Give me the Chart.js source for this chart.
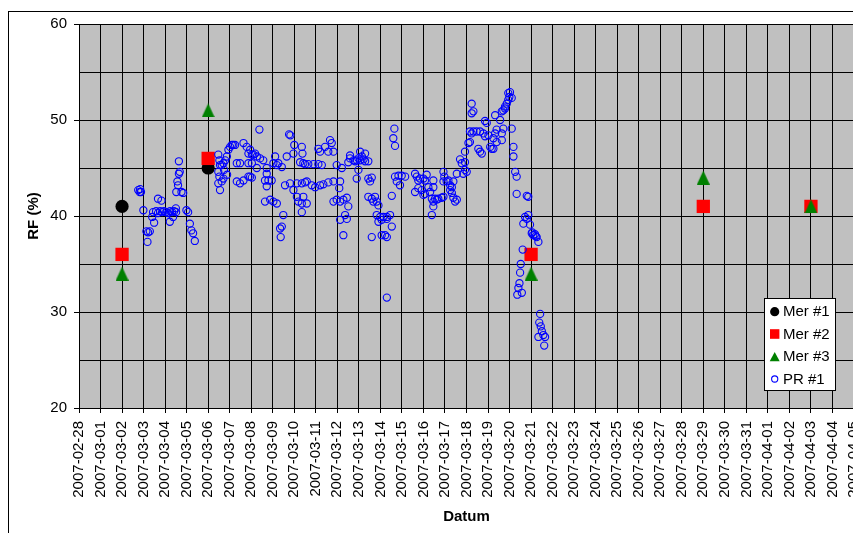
<!DOCTYPE html>
<html>
<head>
<meta charset="utf-8">
<script src="https://cdn.jsdelivr.net/npm/chart.js@4/dist/chart.umd.min.js"></script>
<style>
  html, body { margin: 0; padding: 0; background: #fff; overflow: hidden; width: 853px; height: 533px; }
  #rf { position: absolute; left: 0; top: 0; }
</style>
</head>
<body>
<canvas id="rf" width="870" height="533"></canvas>
<script>
// Day axis: 0 = 2007-02-28, one tick per day
const tickLabels = [
  '2007-02-28',
  '2007-03-01','2007-03-02','2007-03-03','2007-03-04','2007-03-05','2007-03-06','2007-03-07',
  '2007-03-08','2007-03-09','2007-03-10','2007-03-11','2007-03-12','2007-03-13','2007-03-14',
  '2007-03-15','2007-03-16','2007-03-17','2007-03-18','2007-03-19','2007-03-20','2007-03-21',
  '2007-03-22','2007-03-23','2007-03-24','2007-03-25','2007-03-26','2007-03-27','2007-03-28',
  '2007-03-29','2007-03-30','2007-03-31',
  '2007-04-01','2007-04-02','2007-04-03','2007-04-04','2007-04-05'
];
const rfTicks = [20, 25, 30, 35, 40, 45, 50, 55, 60];

// Spot measurements
const mer1Day = [2, 6];
const mer1RF  = [41, 45];
const mer2Day = [2, 6, 21, 29, 34];
const mer2RF  = [36, 46, 36, 41, 41];
const mer3Day = [2, 6, 21, 29, 34];
const mer3RF  = [34, 51, 34, 44, 41];

// Continuous logger PR #1 (fractional days since 2007-02-28)
const prDay = [
  2.75, 2.82, 2.84, 2.88, 2.99, 3.13, 3.18, 3.21, 3.29, 3.40, 3.44, 3.49,
  3.58, 3.67, 3.67, 3.77, 3.83, 3.86, 3.95, 4.05, 4.14, 4.22, 4.23, 4.32,
  4.37, 4.42, 4.50, 4.51, 4.52, 4.57, 4.60, 4.64, 4.64, 4.68, 4.76, 4.84,
  4.99, 5.07, 5.15, 5.22, 5.30, 5.38,
  6.47, 6.47, 6.47, 6.52, 6.52, 6.55, 6.55, 6.63, 6.63, 6.71, 6.71, 6.74,
  6.79, 6.87, 6.88, 6.94, 7.02, 7.10, 7.17, 7.25, 7.33, 7.33, 7.48, 7.48,
  7.64, 7.64, 7.79, 7.87, 7.87, 7.87, 7.95, 7.95, 8.03, 8.03, 8.03, 8.10,
  8.18, 8.26, 8.26, 8.38, 8.41, 8.56, 8.64, 8.64, 8.72, 8.72, 8.72, 8.80,
  8.88, 8.95, 9.03, 9.03, 9.11, 9.19, 9.19, 9.26, 9.34, 9.37, 9.42, 9.42,
  9.49, 9.57, 9.65, 9.76, 9.80, 9.82, 9.96, 9.96, 10.00, 10.12, 10.12, 10.19,
  10.27, 10.35, 10.35, 10.35, 10.35, 10.38, 10.42, 10.42, 10.50, 10.50, 10.58, 10.58,
  10.65, 10.81, 10.89, 10.97, 11.12, 11.12, 11.20, 11.20, 11.28, 11.35, 11.43, 11.58,
  11.58, 11.66, 11.74, 11.82, 11.82, 11.82, 11.97, 11.97, 12.09, 12.13, 12.13, 12.13,
  12.21, 12.28, 12.28, 12.36, 12.44, 12.44, 12.51, 12.51, 12.59, 12.59, 12.75, 12.83,
  12.90, 12.91, 12.98, 12.98, 13.06, 13.06, 13.14, 13.22, 13.29, 13.29, 13.44, 13.44,
  13.44, 13.52, 13.60, 13.60, 13.60, 13.67, 13.75, 13.83, 13.83, 13.91, 13.91, 13.99,
  14.06, 14.06, 14.14, 14.22, 14.30, 14.30, 14.30, 14.30,
  14.45, 14.53, 14.53, 14.60, 14.65, 14.68, 14.68, 14.76, 14.84, 14.91, 14.99, 15.15,
  15.61, 15.61, 15.69, 15.76, 15.76, 15.84, 15.92, 16.00, 16.00, 16.07, 16.07, 16.15,
  16.23, 16.31, 16.39, 16.39, 16.46, 16.46, 16.46, 16.46, 16.54, 16.62, 16.69, 16.85,
  16.93, 16.93, 16.93, 16.97, 17.08, 17.16, 17.24, 17.24, 17.32, 17.32, 17.39, 17.39,
  17.47, 17.55, 17.55, 17.70, 17.78, 17.85, 17.93, 17.93, 17.93, 18.01, 18.09,
  18.16, 18.16, 18.24, 18.24, 18.24, 18.32, 18.32, 18.47, 18.55, 18.63, 18.63, 18.71,
  18.78, 18.86, 18.86, 18.94, 19.02, 19.10, 19.17, 19.25, 19.25, 19.33, 19.33, 19.40,
  19.40, 19.56, 19.64, 19.64, 19.64, 19.71, 19.71, 19.79, 19.79, 19.87, 19.94, 19.94,
  19.99, 20.02, 20.10, 20.10, 20.18, 20.18, 20.26, 20.33, 20.33, 20.36, 20.41, 20.46,
  20.49, 20.52, 20.57, 20.61, 20.64, 20.72, 20.80, 20.80, 20.87, 20.87, 20.95, 21.03,
  21.06, 21.10, 21.18, 21.22, 21.26, 21.34, 21.34, 21.38, 21.42, 21.45, 21.50, 21.57,
  21.61, 21.65
];
const prRF = [
  42.7, 42.5, 42.8, 42.5, 40.6, 38.4, 37.3, 38.3, 38.4, 39.9, 40.4, 39.3,
  40.5, 41.8, 40.3, 40.5, 41.6, 40.4, 40.5, 40.4, 40.3, 39.4, 40.5, 40.4,
  39.9, 40.5, 40.8, 40.4, 42.5, 43.6, 43.2, 44.4, 45.7, 44.6, 42.5, 42.4,
  40.6, 40.4, 39.2, 38.5, 38.2, 37.4,
  46.4, 44.6, 43.4, 45.8, 44.1, 45.3, 42.7, 43.6, 45.3, 43.9, 45.5, 44.8,
  45.8, 46.2, 44.3, 46.9, 47.2, 47.4, 47.4, 47.4, 43.6, 45.5, 43.4, 45.5,
  43.7, 47.6, 47.2, 45.5, 46.5, 44.1, 46.9, 44.1, 45.5, 46.4, 44.0, 46.4,
  46.5, 46.2, 45.0, 49.0, 46.0, 45.8, 43.7, 41.5, 45.0, 44.4, 43.1, 43.7,
  41.7, 43.7, 41.5, 45.5, 46.2, 41.3, 45.3, 45.5, 38.7, 37.8, 38.9, 45.1,
  40.1, 43.2, 46.2, 48.5, 43.4, 48.4, 46.5, 42.7, 47.4, 43.4, 42.0, 41.5,
  45.6, 47.2, 43.4, 41.3, 40.4, 46.5, 45.5, 42.0, 45.4, 43.5, 43.6, 41.3,
  45.4, 43.2, 45.4, 43.0, 47.0, 45.4, 46.7, 43.2, 45.3, 43.3, 47.2, 46.7,
  43.5, 47.9, 47.6, 46.7, 43.6, 41.5, 41.7, 45.3, 42.9, 43.6, 41.5, 39.6,
  45.0, 41.7, 38.0, 40.1, 41.9, 39.7, 41.0, 45.6, 46.0, 46.3, 45.8, 45.7,
  43.9, 45.8, 46.0, 44.8, 46.7, 45.8, 46.2, 45.9, 45.7, 46.5, 45.7, 43.9,
  42.0, 43.6, 44.0, 41.8, 37.8, 41.5, 42.0, 41.5, 40.1, 41.1, 39.4, 39.9,
  39.6, 38.0, 39.9, 38.0, 39.9, 39.7, 37.8, 31.5,
  40.1, 42.1, 38.9, 48.1, 49.1, 47.3, 44.1, 43.6, 44.2, 43.2, 44.2, 44.1,
  44.4, 42.5, 44.1, 43.7, 42.9, 43.9, 42.7, 43.9, 42.2, 43.7, 42.3, 44.3,
  43.0, 42.5, 41.8, 40.1, 43.7, 43.0, 41.5, 41.0, 41.8, 41.7, 41.8, 41.9,
  42.0, 44.6, 43.6, 44.1, 43.6, 43.7, 43.2, 42.7, 43.0, 42.4, 43.6, 41.9,
  41.5, 41.7, 44.4, 45.9, 45.5, 44.4, 45.6, 44.8, 46.7, 44.6, 47.6,
  48.8, 47.7, 51.7, 50.7, 48.6, 50.9, 48.8, 48.8, 47.0, 48.8, 46.7, 46.5,
  48.6, 49.9, 48.3, 49.7, 48.4, 47.2, 47.0, 48.1, 47.0, 50.5, 48.6, 49.0,
  47.7, 50.0, 48.6, 47.9, 50.9, 49.1, 51.0, 51.4, 51.2, 51.7, 52.1, 52.8,
  52.4, 52.9, 52.3, 49.1, 47.2, 46.2, 44.6, 44.1, 42.3, 31.8, 32.5, 33.0,
  34.1, 35.0, 32.0, 36.5, 39.2, 39.9, 42.1, 39.7, 42.0, 40.1, 39.1, 38.2,
  38.3, 38.0, 38.1, 37.9, 37.8, 37.3, 27.4, 28.9, 29.8, 28.5, 28.0, 27.6,
  26.5, 27.4
];

const FONT = '"Liberation Sans", Arial, Helvetica, sans-serif';
const pts = (xs, ys) => xs.map((x, i) => ({ x: x, y: ys[i] }));

// Upright triangle marker, centred on its bounding box
function triangleMarker(w, h, color) {
  const c = document.createElement('canvas');
  c.width = w; c.height = h;
  const g = c.getContext('2d');
  g.fillStyle = color;
  g.beginPath();
  g.moveTo(w / 2, 0);
  g.lineTo(w, h);
  g.lineTo(0, h);
  g.closePath();
  g.fill();
  return c;
}

// White page with the outer frame and a silver plot area
const framePlugin = {
  id: 'frame',
  beforeDraw(chart) {
    const { ctx, chartArea: a } = chart;
    ctx.save();
    ctx.fillStyle = '#fff';
    ctx.fillRect(0, 0, chart.width, chart.height);
    ctx.fillStyle = '#000';
    ctx.fillRect(8, 11, chart.width, 1);
    ctx.fillRect(8, 11, 1, chart.height);
    ctx.fillStyle = '#c0c0c0';
    ctx.fillRect(a.left, a.top, a.right - a.left, a.bottom - a.top);
    ctx.restore();
  }
};

// Boxed legend in the lower right of the plot
const legendPlugin = {
  id: 'boxLegend',
  afterDraw(chart) {
    const ctx = chart.ctx;
    const bx = 764, by = 298, bw = 71, bh = 92;
    ctx.save();
    ctx.fillStyle = '#fff';
    ctx.fillRect(bx, by, bw, bh);
    ctx.strokeStyle = '#000';
    ctx.lineWidth = 1;
    ctx.strokeRect(bx + 0.5, by + 0.5, bw, bh);
    const rows = [311.7, 334, 356.7, 379];
    const mx = 774.7;
    chart.data.datasets.forEach((ds, i) => {
      const y = rows[i];
      ctx.fillStyle = ds.backgroundColor;
      ctx.strokeStyle = ds.borderColor;
      if (ds.legendMark === 'dot') {
        ctx.beginPath(); ctx.arc(mx, y, 4.6, 0, Math.PI * 2); ctx.fill();
      } else if (ds.legendMark === 'square') {
        ctx.fillRect(mx - 4.7, y - 4.8, 9.4, 9.6);
      } else if (ds.legendMark === 'triangle') {
        ctx.beginPath();
        ctx.moveTo(mx, y - 4.8); ctx.lineTo(mx + 5, y + 4.6); ctx.lineTo(mx - 5, y + 4.6);
        ctx.closePath(); ctx.fill();
      } else {
        ctx.lineWidth = 1.1;
        ctx.beginPath(); ctx.arc(mx, y, 3.1, 0, Math.PI * 2); ctx.stroke();
      }
      ctx.fillStyle = '#000';
      ctx.font = '15px ' + FONT;
      ctx.textAlign = 'left';
      ctx.textBaseline = 'middle';
      ctx.fillText(ds.label, 783, y + 0.5);
    });
    ctx.restore();
  }
};

new Chart(document.getElementById('rf'), {
  type: 'scatter',
  data: {
    datasets: [
      {
        label: 'Mer #1', legendMark: 'dot', order: 4,
        data: pts(mer1Day, mer1RF),
        pointStyle: 'circle', pointRadius: 6.6, pointBorderWidth: 0,
        backgroundColor: '#000000', borderColor: '#000000'
      },
      {
        label: 'Mer #2', legendMark: 'square', order: 3,
        data: pts(mer2Day, mer2RF),
        pointStyle: 'rect', pointRadius: 9.4, pointBorderWidth: 0,
        backgroundColor: '#ff0000', borderColor: '#ff0000'
      },
      {
        label: 'Mer #3', legendMark: 'triangle', order: 2,
        data: pts(mer3Day, mer3RF),
        pointStyle: triangleMarker(13, 14, '#008000'), pointRadius: 7,
        backgroundColor: '#008000', borderColor: '#008000'
      },
      {
        label: 'PR #1', legendMark: 'ring', order: 1,
        data: pts(prDay, prRF),
        pointStyle: 'circle', pointRadius: 3.6, pointBorderWidth: 1.1,
        backgroundColor: 'rgba(0,0,0,0)', borderColor: '#0000ff'
      }
    ]
  },
  options: {
    responsive: false,
    devicePixelRatio: 1,
    animation: false,
    events: [],
    layout: { padding: { left: 0, top: 24, right: 16, bottom: 0 } },
    plugins: { legend: { display: false }, tooltip: { enabled: false } },
    scales: {
      x: {
        type: 'linear',
        min: 0,
        max: tickLabels.length - 1,
        afterBuildTicks: (s) => { s.ticks = tickLabels.map((_, i) => ({ value: i })); },
        afterFit: (s) => { s.height = 125; s.paddingLeft = 0; s.paddingRight = 0; },
        ticks: {
          autoSkip: false, minRotation: 90, maxRotation: 90, padding: 8,
          color: '#000', font: { family: FONT, size: 15 },
          callback: (v) => tickLabels[v]
        },
        grid: { color: '#000', lineWidth: 1, tickLength: 5, tickColor: '#000' },
        border: { color: '#000', width: 1 },
        title: {
          display: true, text: 'Datum', color: '#000',
          font: { family: FONT, size: 15, weight: 'bold' },
          padding: { top: 0, bottom: 7 }
        }
      },
      y: {
        min: 20,
        max: 60,
        afterBuildTicks: (s) => { s.ticks = rfTicks.map((v) => ({ value: v })); },
        afterFit: (s) => { s.width = 79; },
        ticks: {
          padding: 7, color: '#000', font: { family: FONT, size: 15 },
          callback: (v) => (v % 10 === 0 ? v : '')
        },
        grid: {
          color: '#000', lineWidth: 1, tickLength: 5,
          tickColor: (c) => (c.tick && c.tick.value % 10 === 0 ? '#000' : 'rgba(0,0,0,0)')
        },
        border: { color: '#000', width: 1 },
        title: {
          display: true, text: 'RF (%)', color: '#000',
          font: { family: FONT, size: 15, weight: 'bold' },
          padding: { top: 25, bottom: 0 }
        }
      }
    }
  },
  plugins: [framePlugin, legendPlugin]
});
</script>
</body>
</html>
